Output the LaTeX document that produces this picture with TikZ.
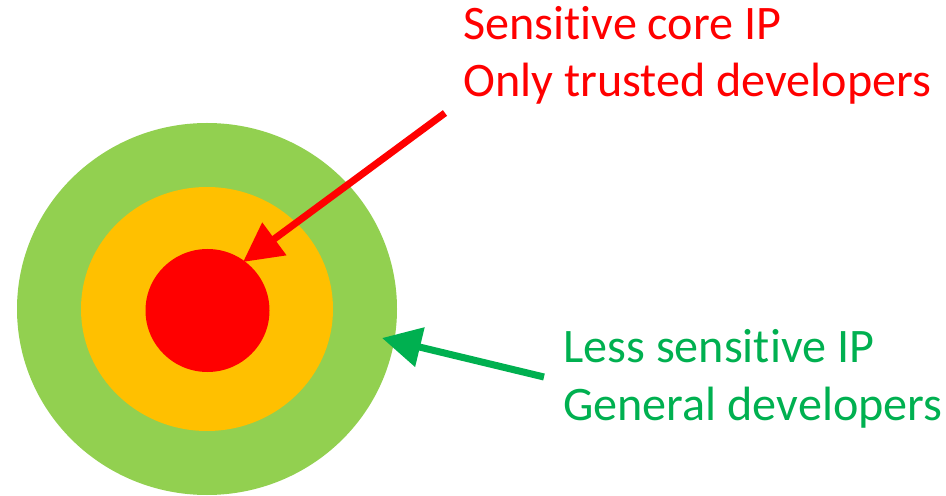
\documentclass[tikz,border=0pt]{standalone}
\usepackage{fontspec}
\setmainfont[Ligatures=NoCommon]{Carlito}
\usetikzlibrary{arrows.meta, positioning}
\definecolor{ringgreen}{HTML}{92D050}
\definecolor{ringorange}{HTML}{FFC000}
\definecolor{corered}{HTML}{FF0000}
\definecolor{labelgreen}{HTML}{00B050}

\begin{document}
\begin{tikzpicture}[
    x=0.02cm, y=-0.02cm,
    every node/.append style = {font=\fontsize{27.4}{32.6}\selectfont},
    label text/.style = {anchor=base west, inner sep=0pt, align=left},
    pointer/.style = {line width=4pt, -{Triangle[length=0.78cm, width=0.78cm]}}
  ]
  \useasboundingbox (0,0) rectangle (946,496);
  % target rings
  \fill[ringgreen] (207,309) ellipse [x radius=190, y radius=186];
  \fill[ringorange] (207,309) ellipse [x radius=126, y radius=122];
  \fill[corered] (207.5,310.5) ellipse [x radius=62, y radius=61.5];

  % base west sits on the last line
  \node[label text, text=corered] (core) at (463,97)
    {Sensitive core IP\\Only trusted developers};
  \node[label text, text=labelgreen] (outer) at (563,420)
    {Less sensitive IP\\General developers};

  \coordinate (coretail) at (445,113);
  \coordinate (corehit) at (243,262);
  \coordinate (outertail) at (544,377);
  \coordinate (outerhit) at (382,338);
  \draw[pointer, corered] (coretail) -- (corehit);
  \draw[pointer, labelgreen] (outertail) -- (outerhit);
\end{tikzpicture}
\end{document}
